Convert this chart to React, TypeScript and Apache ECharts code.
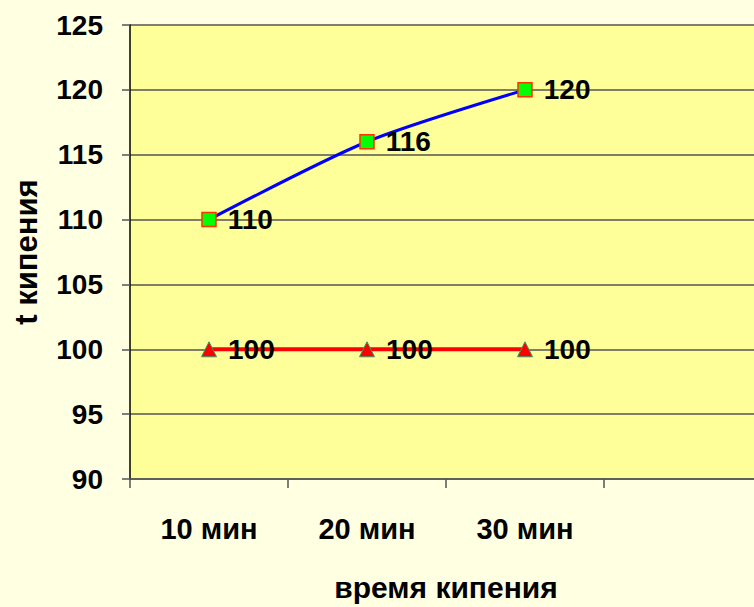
import React, { useEffect, useRef } from "react";
import * as echarts from "echarts";

const categories = ["10 мин", "20 мин", "30 мин", ""];
const seriesBlue = [110, 116, 120];
const seriesRed = [100, 100, 100];
const yTicks = { min: 90, max: 125, interval: 5 };

const FONT = "'Liberation Sans', Arial, sans-serif";

export default function App() {
  const ref = useRef<HTMLDivElement>(null);
  useEffect(() => {
    if (!ref.current) return;
    const chart = echarts.init(ref.current, undefined, { renderer: "svg" });
    const labelStyle = {
      show: true,
      position: "right" as const,
      distance: 11,
      fontFamily: FONT,
      fontWeight: "bold" as const,
      fontSize: 28,
      color: "#000",
    };
    chart.setOption({
      animation: false,
      backgroundColor: "#FFFFE2",
      textStyle: { fontFamily: FONT },
      grid: {
        left: 130,
        top: 25,
        right: 0,
        bottom: 127,
        show: true,
        backgroundColor: "#FFFF99",
        borderWidth: 0,
      },
      xAxis: {
        type: "category",
        data: categories,
        boundaryGap: true,
        axisLine: { show: true, lineStyle: { color: "#555", width: 1.5 } },
        axisTick: { show: true, length: 9, lineStyle: { color: "#555", width: 1.5 } },
        axisLabel: {
          margin: 35,
          fontFamily: FONT,
          fontWeight: "bold",
          fontSize: 29,
          color: "#000",
        },
        splitLine: { show: false },
        name: "время кипения",
        nameLocation: "middle",
        nameGap: 93,
        nameTextStyle: {
          fontFamily: FONT,
          fontWeight: "bold",
          fontSize: 30,
          color: "#000",
        },
      },
      yAxis: {
        type: "value",
        min: yTicks.min,
        max: yTicks.max,
        interval: yTicks.interval,
        axisLine: { show: true, lineStyle: { color: "#000", width: 1.5 } },
        axisTick: { show: true, length: 8, lineStyle: { color: "#555", width: 1.5 } },
        axisLabel: {
          margin: 27,
          fontFamily: FONT,
          fontWeight: "bold",
          fontSize: 28,
          color: "#000",
        },
        splitLine: { show: true, lineStyle: { color: "#555", width: 1.5 } },
        name: "t кипения",
        nameLocation: "middle",
        nameGap: 88,
        nameRotate: 90,
        nameTextStyle: {
          fontFamily: FONT,
          fontWeight: "bold",
          fontSize: 31,
          color: "#000",
        },
      },
      series: [
        {
          type: "line",
          data: seriesBlue,
          smooth: 0.25,
          symbol: "rect",
          symbolSize: 14,
          lineStyle: { color: "#0000FF", width: 3 },
          itemStyle: { color: "#00FF00", borderColor: "#FF3300", borderWidth: 1.5 },
          label: labelStyle,
          z: 3,
        },
        {
          type: "line",
          data: seriesRed,
          symbol: "triangle",
          symbolSize: 15,
          lineStyle: { color: "#FF0000", width: 4 },
          itemStyle: { color: "#FF0000", borderColor: "#339966", borderWidth: 1 },
          label: labelStyle,
          z: 3,
        },
      ],
    });
    return () => chart.dispose();
  }, []);
  return (
    <div
      style={{
        position: "absolute",
        left: 0,
        top: 0,
        width: 754,
        height: 607,
        overflow: "hidden",
      }}
    >
      <div ref={ref} style={{ width: 762, height: 607 }} />
    </div>
  );
}
